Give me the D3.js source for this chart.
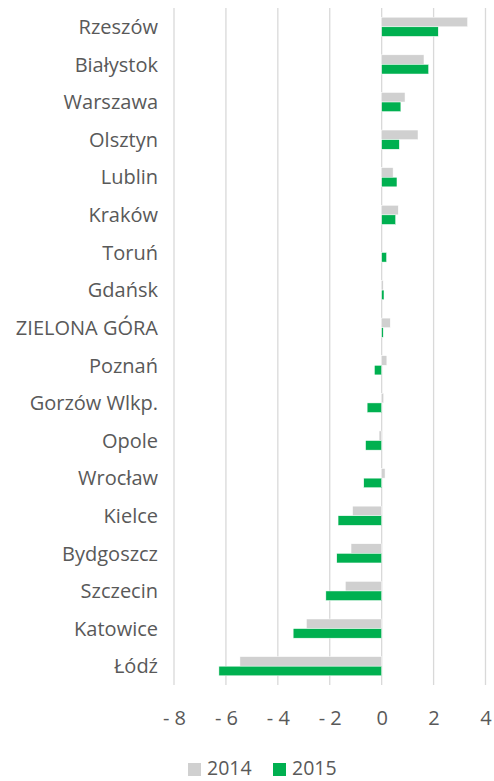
<!DOCTYPE html>
<html><head><meta charset="utf-8">
<script src="https://cdn.jsdelivr.net/npm/d3@7"></script>
<style>
body{margin:0;background:#fff;}
text{font-family:"Open Sans",sans-serif;fill:#595959;}
</style></head>
<body><svg id="c" width="494" height="781"></svg>
<script>
const categories = ["Rzeszów","Białystok","Warszawa","Olsztyn","Lublin","Kraków","Toruń","Gdańsk","ZIELONA GÓRA","Poznań","Gorzów Wlkp.","Opole","Wrocław","Kielce","Bydgoszcz","Szczecin","Katowice","Łódź"];
const values2014 = [3.31,1.63,0.90,1.40,0.44,0.64,0.0,0.06,0.33,0.20,0.08,-0.10,0.13,-1.12,-1.18,-1.40,-2.90,-5.46];
const values2015 = [2.18,1.81,0.74,0.68,0.59,0.54,0.19,0.09,0.06,-0.28,-0.56,-0.62,-0.69,-1.68,-1.73,-2.15,-3.41,-6.27];
const seriesNames = ["2014","2015"];
const tickValues = [-8,-6,-4,-2,0,2,4];
const colors = ["#d0d0d0","#00b050"];

const svg = d3.select("#c");
const x = d3.scaleLinear().domain([-8,4]).range([174,485.5]);
const y = d3.scaleBand().domain(categories).range([8,685]).paddingInner(0).paddingOuter(0);
const barH = 9.6;

// gridlines
svg.append("g").selectAll("line").data(tickValues).join("line")
  .attr("x1",d=>x(d)).attr("x2",d=>x(d)).attr("y1",8).attr("y2",685)
  .attr("stroke","#d9d9d9").attr("stroke-width",1.3);

// bars
const series = [values2014, values2015];
series.forEach((vals,si)=>{
  svg.append("g").selectAll("rect").data(categories).join("rect")
    .attr("x",(d,i)=>Math.min(x(0),x(vals[i])))
    .attr("width",(d,i)=>Math.abs(x(vals[i])-x(0)))
    .attr("y",d=>y(d)+y.bandwidth()/2 - barH + si*barH)
    .attr("height",barH)
    .attr("fill",colors[si])
    .attr("stroke","#fff").attr("stroke-width",0.5);
});

// category labels
svg.append("g").selectAll("text").data(categories).join("text")
  .attr("x",158).attr("y",d=>y(d)+y.bandwidth()/2)
  .attr("dy","0.36em").attr("text-anchor","end")
  .style("font-size","20px").text(d=>d);

// x axis labels
const xAxis = d3.axisBottom(x).tickValues(tickValues).tickSize(0)
  .tickFormat(d=>d<0?"- "+Math.abs(d):String(d));
const ax = svg.append("g").call(xAxis);
ax.select(".domain").remove();
ax.selectAll("text").style("font-size","20px").attr("y",725).attr("dy",null);

// legend
const legendX = [188,273];
seriesNames.forEach((s,i)=>{
  const g = svg.append("g").attr("transform",`translate(${legendX[i]},0)`);
  g.append("rect").attr("x",0).attr("y",763).attr("width",13).attr("height",13).attr("fill",colors[i]);
  g.append("text").attr("x",19).attr("y",775).style("font-size","19.5px").text(s);
});
</script></body></html>
